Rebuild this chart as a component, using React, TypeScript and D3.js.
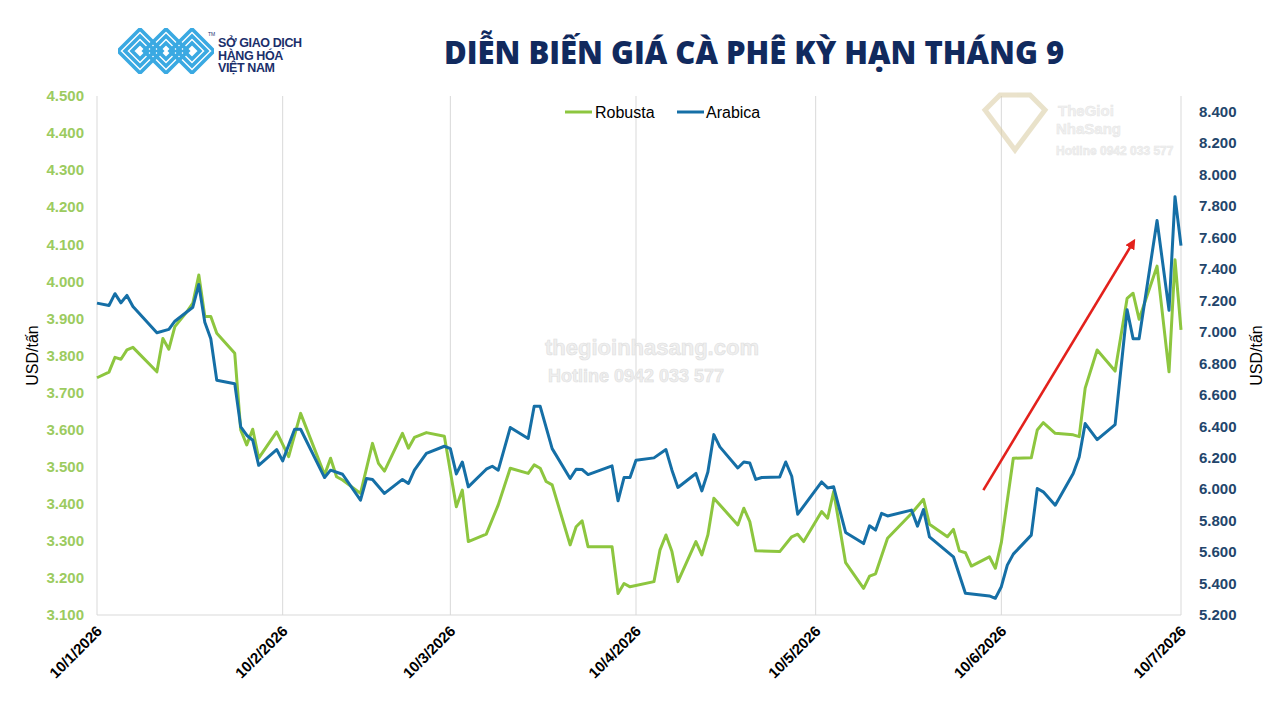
import React from 'react';
import * as d3 from 'd3';

// Giá Robusta (USD/tấn) - trục trái
const robustaDates = [
  '2026-01-10', '2026-01-12', '2026-01-13', '2026-01-14', '2026-01-15', '2026-01-16', '2026-01-20', '2026-01-21',
  '2026-01-22', '2026-01-23', '2026-01-25', '2026-01-26', '2026-01-27', '2026-01-28', '2026-01-29', '2026-01-30',
  '2026-02-02', '2026-02-03', '2026-02-04', '2026-02-05', '2026-02-06', '2026-02-09', '2026-02-11', '2026-02-13',
  '2026-02-17', '2026-02-18', '2026-02-19', '2026-02-20', '2026-02-23', '2026-02-25', '2026-02-26', '2026-02-27',
  '2026-03-02', '2026-03-03', '2026-03-04', '2026-03-06', '2026-03-09', '2026-03-11', '2026-03-12', '2026-03-13',
  '2026-03-16', '2026-03-18', '2026-03-20', '2026-03-23', '2026-03-24', '2026-03-25', '2026-03-26', '2026-03-27',
  '2026-03-30', '2026-03-31', '2026-04-01', '2026-04-02', '2026-04-06', '2026-04-07', '2026-04-08', '2026-04-09',
  '2026-04-13', '2026-04-14', '2026-04-15', '2026-04-16', '2026-04-17', '2026-04-20', '2026-04-21', '2026-04-22',
  '2026-04-23', '2026-04-27', '2026-04-28', '2026-04-29', '2026-04-30', '2026-05-04', '2026-05-06', '2026-05-07',
  '2026-05-08', '2026-05-11', '2026-05-12', '2026-05-13', '2026-05-15', '2026-05-18', '2026-05-19', '2026-05-20',
  '2026-05-22', '2026-05-26', '2026-05-28', '2026-05-29', '2026-06-01', '2026-06-02', '2026-06-03', '2026-06-04',
  '2026-06-05', '2026-06-08', '2026-06-09', '2026-06-10', '2026-06-12', '2026-06-15', '2026-06-16', '2026-06-17',
  '2026-06-19', '2026-06-22', '2026-06-23', '2026-06-24', '2026-06-26', '2026-06-29', '2026-07-01', '2026-07-02',
  '2026-07-03', '2026-07-06', '2026-07-08', '2026-07-09', '2026-07-10',
];
const robustaValues = [
  3740, 3755, 3795, 3790, 3815, 3822, 3756, 3846,
  3817, 3878, 3918, 3941, 4017, 3905, 3905, 3860,
  3806, 3599, 3559, 3601, 3523, 3594, 3527, 3644,
  3478, 3523, 3473, 3464, 3428, 3563, 3509, 3488,
  3590, 3550, 3579, 3592, 3582, 3392, 3437, 3298,
  3318, 3397, 3496, 3482, 3505, 3496, 3460, 3451,
  3289, 3338, 3354, 3284, 3284, 3158, 3185, 3176,
  3190, 3275, 3316, 3271, 3190, 3298, 3262, 3316,
  3415, 3343, 3388, 3352, 3273, 3271, 3311, 3318,
  3298, 3379, 3361, 3433, 3241, 3172, 3205, 3211,
  3307, 3374, 3412, 3345, 3311, 3331, 3273, 3268,
  3232, 3257, 3226, 3295, 3523, 3524, 3599, 3619,
  3590, 3586, 3581, 3712, 3815, 3758, 3954, 3968,
  3898, 4041, 3756, 4058, 3869,
];

// Giá Arabica (USD/tấn) - trục phải
const arabicaDates = [
  '2026-01-10', '2026-01-12', '2026-01-13', '2026-01-14', '2026-01-15', '2026-01-16', '2026-01-20', '2026-01-22',
  '2026-01-23', '2026-01-26', '2026-01-27', '2026-01-28', '2026-01-29', '2026-01-30', '2026-02-02', '2026-02-03',
  '2026-02-04', '2026-02-05', '2026-02-06', '2026-02-09', '2026-02-10', '2026-02-12', '2026-02-13', '2026-02-17',
  '2026-02-18', '2026-02-20', '2026-02-23', '2026-02-24', '2026-02-25', '2026-02-27', '2026-03-02', '2026-03-03',
  '2026-03-04', '2026-03-06', '2026-03-09', '2026-03-10', '2026-03-11', '2026-03-12', '2026-03-13', '2026-03-16',
  '2026-03-17', '2026-03-18', '2026-03-20', '2026-03-23', '2026-03-24', '2026-03-25', '2026-03-27', '2026-03-30',
  '2026-03-31', '2026-04-01', '2026-04-02', '2026-04-06', '2026-04-07', '2026-04-08', '2026-04-09', '2026-04-10',
  '2026-04-13', '2026-04-15', '2026-04-16', '2026-04-17', '2026-04-20', '2026-04-21', '2026-04-22', '2026-04-23',
  '2026-04-24', '2026-04-27', '2026-04-28', '2026-04-29', '2026-04-30', '2026-05-01', '2026-05-04', '2026-05-05',
  '2026-05-06', '2026-05-07', '2026-05-11', '2026-05-12', '2026-05-13', '2026-05-15', '2026-05-18', '2026-05-19',
  '2026-05-20', '2026-05-21', '2026-05-22', '2026-05-26', '2026-05-27', '2026-05-28', '2026-05-29', '2026-06-02',
  '2026-06-04', '2026-06-08', '2026-06-09', '2026-06-10', '2026-06-11', '2026-06-12', '2026-06-15', '2026-06-16',
  '2026-06-17', '2026-06-19', '2026-06-22', '2026-06-23', '2026-06-24', '2026-06-26', '2026-06-29', '2026-07-01',
  '2026-07-02', '2026-07-03', '2026-07-06', '2026-07-08', '2026-07-09', '2026-07-10',
];
const arabicaValues = [
  7183, 7168, 7243, 7185, 7232, 7162, 6995, 7016,
  7068, 7157, 7302, 7062, 6957, 6692, 6671, 6396,
  6343, 6311, 6152, 6252, 6180, 6381, 6381, 6074,
  6121, 6095, 5930, 6068, 6062, 5973, 6062, 6036,
  6121, 6227, 6273, 6258, 6097, 6173, 6015, 6127,
  6146, 6121, 6392, 6322, 6527, 6527, 6258, 6068,
  6127, 6125, 6093, 6148, 5926, 6074, 6074, 6184,
  6199, 6252, 6121, 6011, 6100, 5989, 6109, 6347,
  6269, 6135, 6173, 6167, 6062, 6074, 6078, 6173,
  6082, 5841, 6046, 6008, 6015, 5725, 5654, 5767,
  5740, 5846, 5830, 5867, 5765, 5871, 5697, 5570,
  5338, 5321, 5306, 5380, 5517, 5587, 5708, 6004,
  5983, 5898, 6100, 6205, 6417, 6315, 6411, 7141,
  6957, 6957, 7708, 7137, 7860, 7549,
];

const xTickDates = ['2026-01-10', '2026-02-10', '2026-03-10', '2026-04-10', '2026-05-10', '2026-06-10', '2026-07-10'];
const xTickLabels = ['10/1/2026', '10/2/2026', '10/3/2026', '10/4/2026', '10/5/2026', '10/6/2026', '10/7/2026'];
const leftTicks = [3100, 3200, 3300, 3400, 3500, 3600, 3700, 3800, 3900, 4000, 4100, 4200, 4300, 4400, 4500];
const rightTicks = [5200, 5400, 5600, 5800, 6000, 6200, 6400, 6600, 6800, 7000, 7200, 7400, 7600, 7800, 8000, 8200, 8400];

// mũi tên xu hướng (ngày, giá Robusta)
const arrowFrom = { date: '2026-06-07', value: 3437 };
const arrowTo = { date: '2026-07-02', value: 4105 };

const GREEN = '#8dc63f';
const BLUE = '#156fa6';
const FONT = '"Liberation Sans", Arial, sans-serif';

const parse = d3.timeParse('%Y-%m-%d');
const fmt = d3.formatLocale({ decimal: ',', thousands: '.', grouping: [3], currency: ['', ''] }).format(',');

const App: React.FC = () => {
  const plot = { left: 97, right: 1181, top: 96, bottom: 615 };

  const x = d3
    .scaleTime()
    .domain([parse(xTickDates[0])!, parse(xTickDates[xTickDates.length - 1])!])
    .range([plot.left, plot.right]);
  const yL = d3.scaleLinear().domain([3100, 4500]).range([plot.bottom, plot.top]);
  const yR = d3.scaleLinear().domain([5200, 8500]).range([plot.bottom, plot.top]);

  const robusta = robustaDates.map((d, i) => ({ date: parse(d)!, value: robustaValues[i] }));
  const arabica = arabicaDates.map((d, i) => ({ date: parse(d)!, value: arabicaValues[i] }));

  const lineL = d3
    .line<{ date: Date; value: number }>()
    .x((d) => x(d.date))
    .y((d) => yL(d.value));
  const lineR = d3
    .line<{ date: Date; value: number }>()
    .x((d) => x(d.date))
    .y((d) => yR(d.value));

  const ax1 = x(parse(arrowFrom.date)!);
  const ay1 = yL(arrowFrom.value);
  const ax2 = x(parse(arrowTo.date)!);
  const ay2 = yL(arrowTo.value);

  // logo: các hình thoi lồng nhau
  const diamond = (cx: number, cy: number, r: number) =>
    `M${cx - r},${cy} L${cx},${cy - r} L${cx + r},${cy} L${cx},${cy + r} Z`;

  return (
    <div style={{ position: 'fixed', left: 0, top: 0, width: 1280, height: 720, background: '#fff' }}>
      <svg width={1280} height={720} style={{ display: 'block', fontFamily: FONT }}>
        <defs>
          <marker id="arrowHead" viewBox="0 0 10 10" refX="6" refY="5" markerWidth="4" markerHeight="4" orient="auto">
            <path d="M0,0 L10,5 L0,10 z" fill="#e3211c" />
          </marker>
          <clipPath id="logoClip">
            <rect x={118} y={28} width={96} height={46} />
          </clipPath>
        </defs>

        {/* logo */}
        <g clipPath="url(#logoClip)" fill="none" stroke="#3aa9e2" strokeWidth={3.6} strokeLinejoin="miter">
          {[140, 166, 192].map((cx) =>
            [22, 15, 8].map((r) => <path key={`${cx}-${r}`} d={diamond(cx, 51, r)} />),
          )}
        </g>
        <text x={208} y={36} fontSize={5} fill="#1d3570">
          TM
        </text>
        <g fill="#1b2f6b" fontWeight="bold" fontSize={12.5} letterSpacing={-0.4}>
          <text x={218} y={47}>SỞ GIAO DỊCH</text>
          <text x={218} y={60}>HÀNG HÓA</text>
          <text x={218} y={72}>VIỆT NAM</text>
        </g>

        {/* tiêu đề */}
        <text
          x={754}
          y={64}
          textAnchor="middle"
          fontFamily='"Open Sans", sans-serif'
          fontWeight={800}
          fontSize={31}
          fill="#112a5e"
        >
          DIỄN BIẾN GIÁ CÀ PHÊ KỲ HẠN THÁNG 9
        </text>

        {/* lưới dọc */}
        {xTickDates.map((d) => (
          <line
            key={d}
            x1={x(parse(d)!)}
            x2={x(parse(d)!)}
            y1={plot.top}
            y2={plot.bottom}
            stroke="#d9d9d9"
            strokeWidth={1}
          />
        ))}
        <line x1={plot.left} x2={plot.right} y1={plot.bottom} y2={plot.bottom} stroke="#d9d9d9" strokeWidth={1} />

        {/* watermark */}
        <g fontWeight="bold" fill="#efefef" stroke="#dedede" strokeWidth={0.6} textAnchor="middle">
          <text x={652} y={355} fontSize={22}>thegioinhasang.com</text>
          <text x={636} y={382} fontSize={18}>Hotline 0942 033 577</text>
        </g>
        <g opacity={0.55}>
          <path d="M985,110 L1000,95 L1030,95 L1045,110 L1015,150 Z" fill="none" stroke="#d8cba0" strokeWidth={5} />
          <text x={1058} y={116} fontSize={15} fontWeight="bold" fill="#e6e6e6" stroke="#cfcfcf" strokeWidth={0.5}>
            TheGioi
          </text>
          <text x={1056} y={134} fontSize={15} fontWeight="bold" fill="#e6e6e6" stroke="#cfcfcf" strokeWidth={0.5}>
            NhaSang
          </text>
          <text x={1056} y={155} fontSize={12} fontWeight="bold" fill="#e6e6e6" stroke="#cfcfcf" strokeWidth={0.5}>
            Hotline 0942 033 577
          </text>
        </g>

        {/* trục trái */}
        {leftTicks.map((t) => (
          <text
            key={t}
            x={84}
            y={yL(t)}
            dy="0.35em"
            textAnchor="end"
            fontSize={15}
            fontWeight="bold"
            fill="#9ccb5f"
          >
            {fmt(t)}
          </text>
        ))}
        <text transform={`translate(38, ${(plot.top + plot.bottom) / 2}) rotate(-90)`} textAnchor="middle" fontSize={16} fill="#000">
          USD/tấn
        </text>

        {/* trục phải */}
        {rightTicks.map((t) => (
          <text key={t} x={1199} y={yR(t)} dy="0.35em" fontSize={15} fontWeight="bold" fill="#23456b">
            {fmt(t)}
          </text>
        ))}
        <text
          transform={`translate(1262, ${(plot.top + plot.bottom) / 2}) rotate(-90)`}
          textAnchor="middle"
          fontSize={16}
          fill="#000"
        >
          USD/tấn
        </text>

        {/* nhãn trục x */}
        {xTickDates.map((d, i) => (
          <text
            key={d}
            transform={`translate(${x(parse(d)!) + 6}, ${632}) rotate(-45)`}
            textAnchor="end"
            fontSize={15}
            fontWeight="bold"
            fill="#000"
          >
            {xTickLabels[i]}
          </text>
        ))}

        {/* đường giá */}
        <path d={lineL(robusta) ?? ''} fill="none" stroke={GREEN} strokeWidth={3} strokeLinejoin="round" />
        <path d={lineR(arabica) ?? ''} fill="none" stroke={BLUE} strokeWidth={3} strokeLinejoin="round" />

        {/* mũi tên */}
        <line x1={ax1} y1={ay1} x2={ax2} y2={ay2} stroke="#e3211c" strokeWidth={2.6} markerEnd="url(#arrowHead)" />

        {/* chú giải */}
        <line x1={565} x2={592} y1={112} y2={112} stroke={GREEN} strokeWidth={3} />
        <text x={595} y={112} dy="0.35em" fontSize={16} fill="#000">
          Robusta
        </text>
        <line x1={677} x2={704} y1={112} y2={112} stroke={BLUE} strokeWidth={3} />
        <text x={706} y={112} dy="0.35em" fontSize={16} fill="#000">
          Arabica
        </text>
      </svg>
    </div>
  );
};

export default App;
